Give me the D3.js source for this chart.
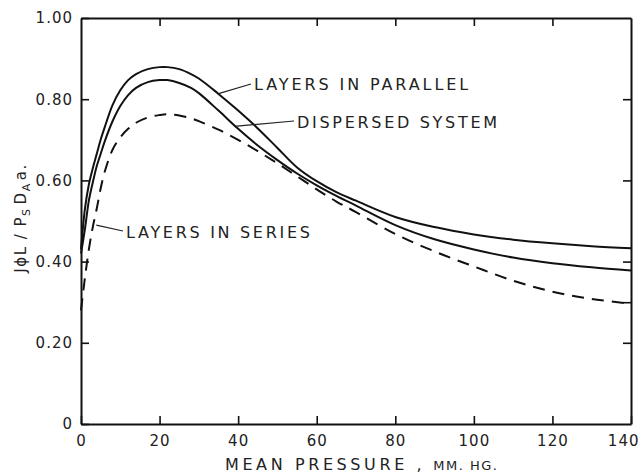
<!DOCTYPE html>
<html>
<head>
<meta charset="utf-8">
<script src="https://cdn.jsdelivr.net/npm/d3@7"></script>
<style>
  html, body { margin: 0; padding: 0; background: #fff; overflow: hidden; }
  svg { display: block; }
  text { font-family: "DejaVu Sans", sans-serif; fill: #222; }
</style>
</head>
<body>
<div id="chart"></div>
<script>
// data
const pressure = [0, 1, 2, 3, 4, 5, 6, 8, 10, 12, 14, 17, 20, 22, 25, 28, 30, 35, 40, 45, 50, 55, 60, 65, 70, 80, 90, 100, 110, 120, 130, 140]
const parallel = [0.43, 0.53, 0.59, 0.63, 0.665, 0.70, 0.73, 0.785, 0.822, 0.847, 0.862, 0.874, 0.879, 0.879, 0.874, 0.862, 0.851, 0.813, 0.772, 0.728, 0.68, 0.632, 0.598, 0.571, 0.55, 0.51, 0.485, 0.467, 0.454, 0.445, 0.438, 0.433]
const dispersed = [0.42, 0.48, 0.55, 0.595, 0.635, 0.665, 0.695, 0.745, 0.783, 0.81, 0.828, 0.842, 0.847, 0.847, 0.84, 0.828, 0.815, 0.772, 0.727, 0.686, 0.65, 0.617, 0.588, 0.562, 0.538, 0.49, 0.455, 0.43, 0.41, 0.396, 0.386, 0.378]
const series = [0.28, 0.36, 0.43, 0.485, 0.53, 0.58, 0.62, 0.675, 0.706, 0.727, 0.742, 0.755, 0.761, 0.763, 0.76, 0.753, 0.746, 0.725, 0.70, 0.672, 0.642, 0.61, 0.578, 0.548, 0.522, 0.468, 0.425, 0.388, 0.353, 0.326, 0.308, 0.296]

const xTicks = [0, 20, 40, 60, 80, 100, 120, 140]
const yTicks = [0, 0.2, 0.4, 0.6, 0.8, 1.0]
const topTicks = [20, 40, 60, 80, 100, 120]
const rightTicks = [0.2, 0.3, 0.4, 0.6, 0.8]

const width = 640
const height = 473
const margin = { top: 18, bottom: 49, left: 81, right: 9 }

const svg = d3.select("#chart")
    .append("svg")
      .attr("width", width)
      .attr("height", height)

const x = d3.scaleLinear()
    .domain([0, 140])
    .range([margin.left, width - margin.right])

const y = d3.scaleLinear()
    .domain([0, 1])
    .range([height - margin.bottom, margin.top])

const yFmt = d => d === 0 ? "0" : d3.format(".2f")(d)

// axes on all four sides, ticks pointing inward
const xAxisGroup = svg.append("g")
    .attr("transform", `translate(0, ${y(0)})`)
    .call(d3.axisBottom(x).tickValues(xTicks).tickSizeInner(-8).tickSizeOuter(0).tickPadding(8).tickFormat(d => d === 0 ? "0" : d))
const yAxisGroup = svg.append("g")
    .attr("transform", `translate(${x(0)}, 0)`)
    .call(d3.axisLeft(y).tickValues(yTicks).tickSizeInner(-8).tickSizeOuter(0).tickPadding(14).tickFormat(yFmt))
const topAxisGroup = svg.append("g")
    .attr("transform", `translate(0, ${y(1)})`)
    .call(d3.axisTop(x).tickValues(topTicks).tickSizeInner(-8).tickSizeOuter(0).tickFormat(() => ""))
const rightAxisGroup = svg.append("g")
    .attr("transform", `translate(${x(140)}, 0)`)
    .call(d3.axisRight(y).tickValues(rightTicks).tickSizeInner(-8).tickSizeOuter(0).tickFormat(() => ""))

svg.selectAll(".domain").attr("stroke", "#111").attr("stroke-width", 2)
svg.selectAll(".tick line").attr("stroke", "#111").attr("stroke-width", 1.6)
svg.selectAll(".tick text")
    .style("font-size", "15px")
    .style("letter-spacing", "1px")
    .attr("fill", "#222")
yAxisGroup.selectAll(".tick text").attr("dx", "6")
xAxisGroup.selectAll(".tick text").attr("dy", "0.9em")
xAxisGroup.selectAll(".tick text").filter(d => d === 140).attr("text-anchor", "end").attr("dx", "8")

// curves
const line = d3.line()
    .x((d, i) => x(pressure[i]))
    .y(d => y(d))
    .curve(d3.curveCatmullRom.alpha(0.5))

svg.append("path").datum(parallel)
    .attr("fill", "none").attr("stroke", "#111").attr("stroke-width", 2)
    .attr("d", line)
svg.append("path").datum(dispersed)
    .attr("fill", "none").attr("stroke", "#111").attr("stroke-width", 2)
    .attr("d", line)
svg.append("path").datum(series)
    .attr("fill", "none").attr("stroke", "#111").attr("stroke-width", 2)
    .attr("stroke-dasharray", "12,8")
    .attr("d", line)

// labels with leader lines
const labels = [
  { text: "LAYERS IN PARALLEL", tx: 254, ty: 90, sp: 2.9, lx: 251, ly: 84, px: 34.8, py: 0.813 },
  { text: "DISPERSED SYSTEM", tx: 297, ty: 128, sp: 2.7, lx: 294, ly: 121, px: 39, py: 0.733 },
  { text: "LAYERS IN SERIES", tx: 126, ty: 238, sp: 2.7, lx: 123, ly: 231, px: 3.9, py: 0.49 }
]
labels.forEach(l => {
  svg.append("line")
      .attr("x1", l.lx).attr("y1", l.ly)
      .attr("x2", x(l.px)).attr("y2", y(l.py))
      .attr("stroke", "#222").attr("stroke-width", 1.2)
  svg.append("text")
      .attr("x", l.tx).attr("y", l.ty)
      .style("font-size", "16px")
      .style("letter-spacing", l.sp + "px")
      .text(l.text)
})

// axis titles
svg.append("text")
    .attr("x", 225).attr("y", 470)
    .style("font-size", "16px")
    .style("letter-spacing", "3.6px")
    .text("MEAN PRESSURE ,")
  .append("tspan")
    .attr("dx", 8)
    .style("font-size", "13px")
    .style("letter-spacing", "1.5px")
    .text("MM. HG.")

const yl = svg.append("text")
    .attr("transform", "translate(26, 218) rotate(-90)")
    .attr("text-anchor", "middle")
    .style("font-size", "15px")
    .style("letter-spacing", "1.5px")
yl.append("tspan").text("JϕL / P")
yl.append("tspan").attr("dy", 4).style("font-size", "11px").text("S")
yl.append("tspan").attr("dy", -4).attr("dx", 3).text("D")
yl.append("tspan").attr("dy", 4).style("font-size", "11px").text("A")
yl.append("tspan").attr("dy", -4).attr("dx", 2).text("a.")
</script>
</body>
</html>
